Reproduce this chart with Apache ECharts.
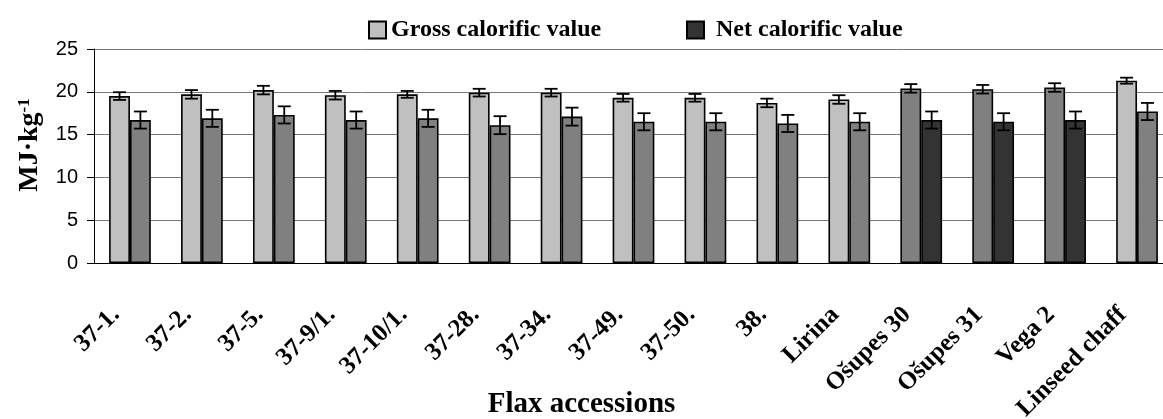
<!DOCTYPE html>
<html>
<head>
<meta charset="utf-8">
<script src="https://cdn.jsdelivr.net/npm/echarts@6/dist/echarts.min.js"></script>
<style>
  html, body { margin: 0; padding: 0; background: #fff; }
  #chartmain { width: 1163px; height: 419px; }
</style>
</head>
<body>
<div id="chartmain"></div>
<script>
var categories = ['37-1.', '37-2.', '37-5.', '37-9/1.', '37-10/1.', '37-28.', '37-34.', '37-49.',
  '37-50.', '38.', 'Lirina', 'Ošupes 30', 'Ošupes 31', 'Vega 2', 'Linseed chaff'];
var grossValues = [19.5, 19.7, 20.2, 19.6, 19.7, 19.9, 19.9, 19.3, 19.3, 18.7, 19.1, 20.4, 20.3, 20.5, 21.3];
var grossErrors = [0.45, 0.5, 0.5, 0.5, 0.4, 0.45, 0.45, 0.45, 0.45, 0.5, 0.5, 0.5, 0.5, 0.5, 0.35];
var netValues = [16.7, 16.9, 17.3, 16.7, 16.9, 16.1, 17.1, 16.5, 16.5, 16.3, 16.5, 16.7, 16.5, 16.7, 17.7];
var netErrors = [1.0, 1.0, 1.0, 1.0, 1.0, 1.05, 1.05, 1.0, 1.0, 1.0, 1.0, 1.0, 1.0, 1.0, 1.0];
var darkCategories = ['Ošupes 30', 'Ošupes 31', 'Vega 2'];
var yTicks = [0, 5, 10, 15, 20, 25];

var serif = 'Liberation Serif';
var catGap = 0.42;

function barData(values, normalColor, darkColor) {
  var out = [];
  for (var i = 0; i < values.length; i++) {
    var dark = darkCategories.indexOf(categories[i]) >= 0;
    out.push({ value: values[i], itemStyle: { color: dark ? darkColor : normalColor } });
  }
  return out;
}

function errData(values, errors) {
  var out = [];
  for (var i = 0; i < values.length; i++) {
    out.push([i, values[i], errors[i]]);
  }
  return out;
}

function errRenderer(side) {
  return function (params, api) {
    var i = api.value(0), v = api.value(1), e = api.value(2);
    var bw = api.size([1, 0])[0] * (1 - catGap) / 2;
    var c = api.coord([i, v]);
    var x = c[0] + side * bw / 2;
    var top = api.coord([i, v + e])[1];
    var bot = api.coord([i, v - e])[1];
    var cap = 6.5;
    var st = { stroke: '#000', lineWidth: 1.8 };
    return {
      type: 'group',
      children: [
        { type: 'line', shape: { x1: x, y1: top, x2: x, y2: bot }, style: st },
        { type: 'line', shape: { x1: x - cap, y1: top, x2: x + cap, y2: top }, style: st },
        { type: 'line', shape: { x1: x - cap, y1: bot, x2: x + cap, y2: bot }, style: st }
      ]
    };
  };
}

var option = {
  animation: false,
  backgroundColor: '#fff',
  title: {
    text: 'Flax accessions',
    left: 'center',
    top: 385,
    textStyle: { fontFamily: serif, fontWeight: 'bold', fontSize: 29, color: '#000' }
  },
  legend: [{
    data: ['Gross calorific value'],
    icon: 'rect',
    left: 363,
    top: 13,
    itemWidth: 17,
    itemHeight: 17,
    itemGap: 10,
    textStyle: { fontFamily: serif, fontWeight: 'bold', fontSize: 24, color: '#000' }
  }, {
    data: ['Net calorific value'],
    icon: 'rect',
    left: 681,
    top: 13,
    itemWidth: 17,
    itemHeight: 17,
    textStyle: { fontFamily: serif, fontWeight: 'bold', fontSize: 24, color: '#000', padding: [0, 0, 0, 7] }
  }],
  grid: { left: 94, right: -10, top: 49, bottom: 156, outerBoundsMode: 'none', containLabel: false },
  xAxis: {
    type: 'category',
    data: categories,
    axisLine: { lineStyle: { color: '#000', width: 1 } },
    axisTick: { length: 8, lineStyle: { color: '#000' } },
    axisLabel: {
      interval: 0,
      rotate: 45,
      margin: 34,
      padding: [0, 20, 0, 0],
      fontFamily: serif,
      fontWeight: 'bold',
      fontSize: 25,
      color: '#000'
    }
  },
  yAxis: {
    type: 'value',
    min: yTicks[0],
    max: yTicks[yTicks.length - 1],
    interval: 5,
    name: '{m|MJ·kg}{s|-1}',
    nameLocation: 'middle',
    nameGap: 50,
    nameTextStyle: {
      padding: [0, 0, 0, 22],
      rich: {
        m: { fontFamily: serif, fontWeight: 'bold', fontSize: 28, color: '#000' },
        s: { fontFamily: serif, fontWeight: 'bold', fontSize: 17, color: '#000', verticalAlign: 'top' }
      }
    },
    axisLine: { show: true, lineStyle: { color: '#000', width: 1 } },
    axisTick: { show: true, length: 7, lineStyle: { color: '#000' } },
    axisLabel: { margin: 16, fontFamily: 'Liberation Sans', fontSize: 20, color: '#000' },
    splitLine: { lineStyle: { color: '#777', width: 1 } }
  },
  series: [{
    name: 'Gross calorific value',
    type: 'bar',
    barGap: '0%',
    barCategoryGap: (catGap * 100) + '%',
    itemStyle: { color: '#C0C0C0', borderColor: '#000', borderWidth: 1.6 },
    data: barData(grossValues, '#C0C0C0', '#808080')
  }, {
    name: 'Net calorific value',
    type: 'bar',
    itemStyle: { color: '#333333', borderColor: '#000', borderWidth: 1.6 },
    data: barData(netValues, '#808080', '#333333')
  }, {
    type: 'custom',
    z: 10,
    renderItem: errRenderer(-1),
    data: errData(grossValues, grossErrors)
  }, {
    type: 'custom',
    z: 10,
    renderItem: errRenderer(1),
    data: errData(netValues, netErrors)
  }]
};

var myChart = echarts.init(document.getElementById('chartmain'));
myChart.setOption(option);
</script>
</body>
</html>
